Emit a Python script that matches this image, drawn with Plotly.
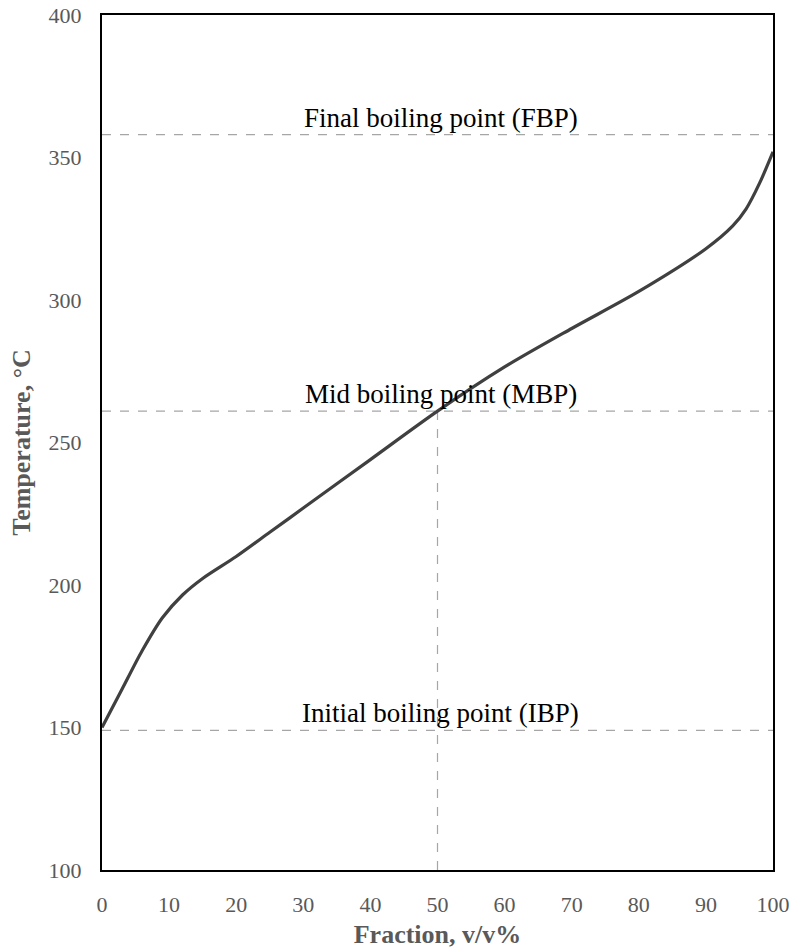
import plotly.graph_objects as go

# Data
fraction = [0, 3, 6, 9, 12, 15, 20, 25, 30, 40, 50, 60, 70, 80, 90, 94, 96, 98, 100]
temperature = [150, 163.5, 177, 188.5, 196.5, 202.3, 210, 218.5, 227, 244, 261, 276.5, 290, 303, 318, 326, 332, 341, 352]

ibp = 149
mbp = 261
fbp = 358
mid_fraction = 50
labels = ["Initial boiling point (IBP)", "Mid boiling point (MBP)", "Final boiling point (FBP)"]
label_levels = [ibp, mbp, fbp]

x_ticks = list(range(0, 101, 10))
y_ticks = list(range(100, 401, 50))

FONT = "Liberation Serif, Times New Roman, serif"

fig = go.Figure()

# reference dashed lines
for lvl in label_levels:
    fig.add_shape(type="line", xref="x", yref="y", x0=0, x1=100, y0=lvl, y1=lvl,
                  line=dict(color="#a6a6a6", width=1.2, dash="dash"), layer="below")
fig.add_shape(type="line", xref="x", yref="y", x0=mid_fraction, x1=mid_fraction, y0=100, y1=mbp,
              line=dict(color="#a6a6a6", width=1.2, dash="dash"), layer="below")

fig.add_trace(go.Scatter(x=fraction, y=temperature, mode="lines",
                         line=dict(color="#404040", width=3.2, shape="spline", smoothing=0.8),
                         showlegend=False, hoverinfo="skip"))

for txt, lvl in zip(labels, label_levels):
    fig.add_annotation(x=mid_fraction + 0.5, y=lvl, text=txt, showarrow=False,
                       xref="x", yref="y", yanchor="bottom", yshift=0,
                       font=dict(family=FONT, size=27, color="#000000"))

fig.update_layout(
    width=794, height=949,
    margin=dict(l=102, r=21, t=15, b=79),
    paper_bgcolor="white", plot_bgcolor="white",
    font=dict(family=FONT),
    showlegend=False,
)
fig.update_xaxes(range=[0, 100], tickvals=x_ticks, ticktext=[str(v) for v in x_ticks],
                 automargin=False,
                 showgrid=False, zeroline=False, showline=True, linecolor="black", linewidth=2,
                 mirror=True, ticks="", ticklabelstandoff=14,
                 tickfont=dict(family=FONT, size=22, color="#595959"),
                 title=dict(text="<b>Fraction, v/v%</b>", standoff=8,
                            font=dict(family=FONT, size=26, color="#595959")))
fig.update_yaxes(range=[100, 400], tickvals=y_ticks, ticktext=[str(v) for v in y_ticks],
                 automargin=False,
                 showgrid=False, zeroline=False, showline=True, linecolor="black", linewidth=2,
                 mirror=True, ticks="", ticklabelstandoff=14,
                 tickfont=dict(family=FONT, size=22, color="#595959"),
                 title=dict(text="<b>Temperature, °C</b>", standoff=10,
                            font=dict(family=FONT, size=26, color="#595959")))

fig.write_html("out.html")
